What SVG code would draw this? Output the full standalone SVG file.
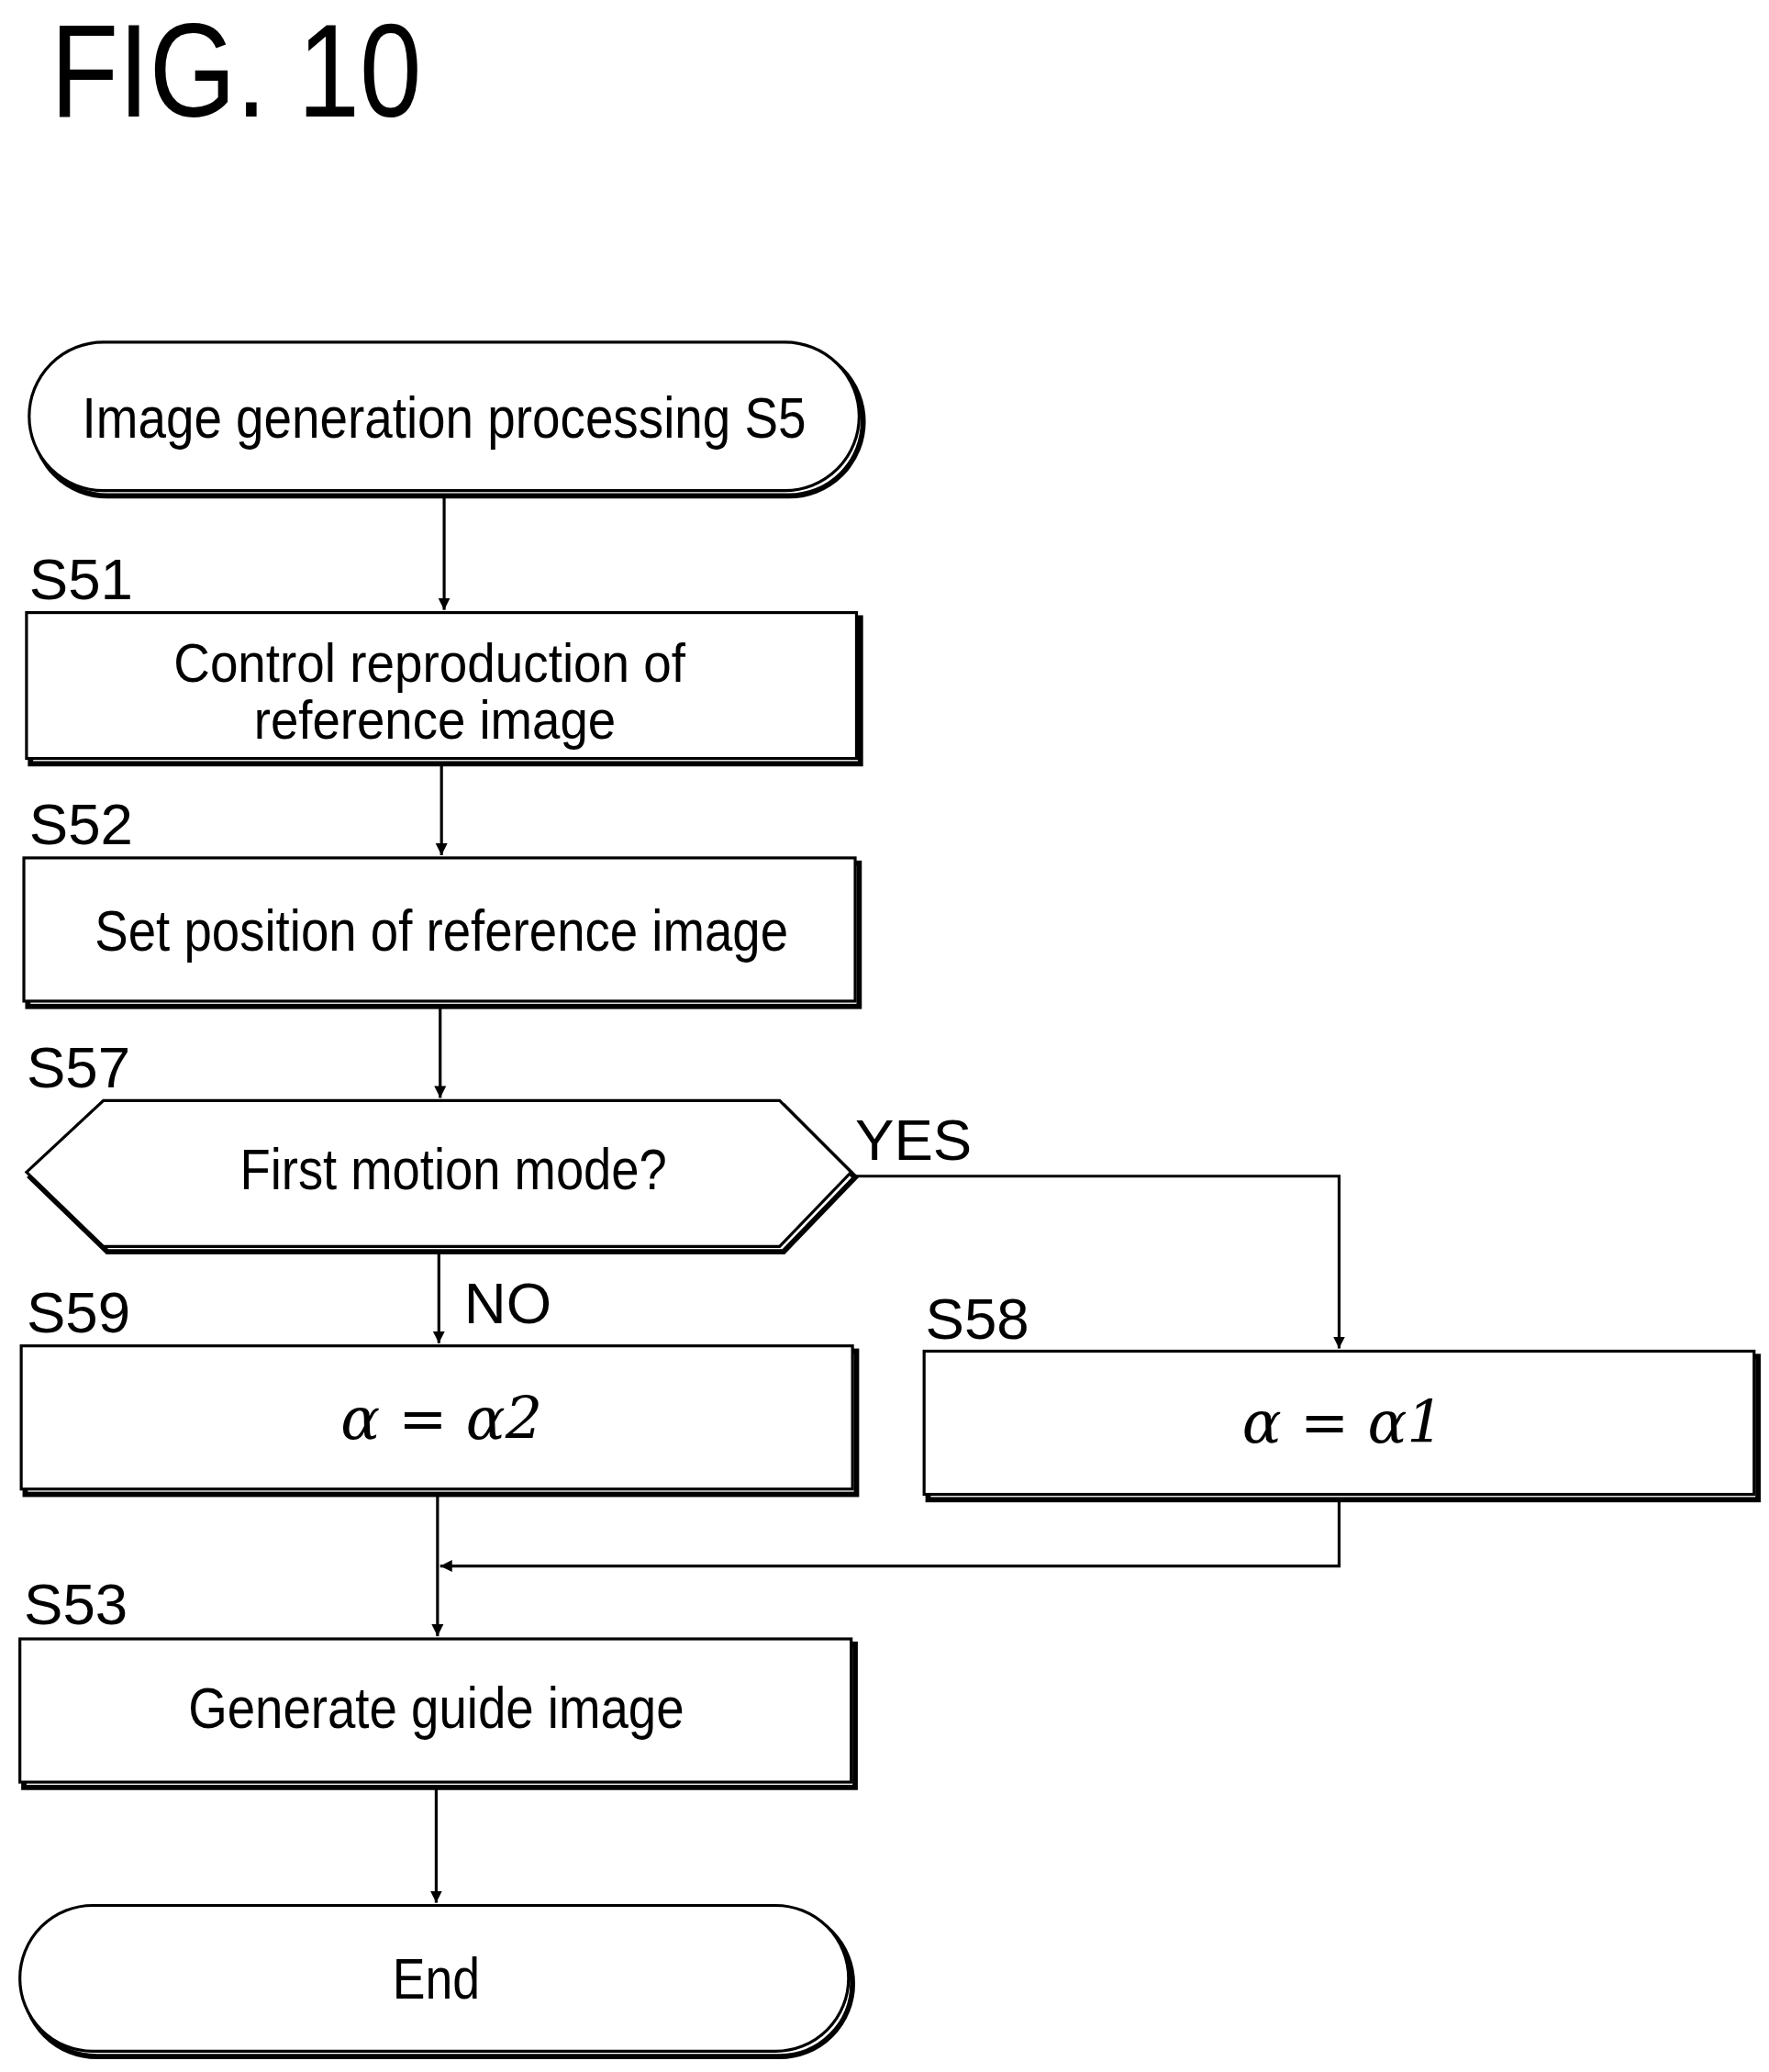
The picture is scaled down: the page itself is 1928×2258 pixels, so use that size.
<svg xmlns="http://www.w3.org/2000/svg" width="1928" height="2258" viewBox="0 0 1928 2258">
<style>
.b{fill:#fff;stroke:#000;stroke-width:2.2}
.s{fill:none;stroke:#000;stroke-width:4}
.t{font-family:"Liberation Sans",Arial,sans-serif;font-size:44px;text-anchor:middle;fill:#000}
.l{font-family:"Liberation Sans",Arial,sans-serif;font-size:44px;fill:#000}
.m{font-family:"DejaVu Serif",serif;font-style:italic;font-size:44px;text-anchor:middle;fill:#000}
.c{fill:none;stroke:#000;stroke-width:2.2}
</style>
<defs><marker id="a" viewBox="0 0 10 10" markerWidth="9" markerHeight="14" refX="10" refY="5" orient="auto" markerUnits="userSpaceOnUse"><path d="M0,0 L10,5 L0,10 Z" fill="#000"/></marker></defs>
<rect width="1928" height="2258" fill="#fff"/>
<g transform="scale(1.445)">
<text x="38" y="88" style="font-family:'Liberation Sans',Arial,sans-serif;font-size:100px" textLength="280" lengthAdjust="spacingAndGlyphs">FIG. 10</text>
<g id="start"><rect class="s" x="25" y="262" width="626" height="112" rx="56"/><rect class="b" x="22" y="258" width="626" height="112" rx="56"/><text class="t" x="335" y="330" textLength="546" lengthAdjust="spacingAndGlyphs">Image generation processing S5</text></g>
<g id="S51"><text class="l" x="22" y="452">S51</text><rect class="s" x="23" y="466" width="626" height="110"/><rect class="b" x="20" y="462" width="626" height="110"/><text class="t" x="324" y="514" textLength="386" lengthAdjust="spacingAndGlyphs" style="font-size:41px">Control reproduction of</text><text class="t" x="328" y="557" textLength="273" lengthAdjust="spacingAndGlyphs" style="font-size:41px">reference image</text></g>
<g id="S52"><text class="l" x="22" y="637">S52</text><rect class="s" x="21" y="651" width="627" height="108"/><rect class="b" x="18" y="647" width="627" height="108"/><text class="t" x="333" y="717" textLength="523" lengthAdjust="spacingAndGlyphs">Set position of reference image</text></g>
<g id="S57"><text class="l" x="20" y="820">S57</text><polygon class="s" points="23,888 81,834 591,834 645,888 591,944 81,944"/><polygon class="b" points="20,884 78,830 588,830 642,884 588,940 78,940"/><text class="t" x="342" y="897" textLength="322" lengthAdjust="spacingAndGlyphs">First motion mode?</text></g>
<g id="S59"><text class="l" x="20" y="1005">S59</text><rect class="s" x="19" y="1019" width="627" height="108"/><rect class="b" x="16" y="1015" width="627" height="108"/><text class="m" x="333" y="1085">α = α2</text></g>
<g id="S58"><text class="l" x="698" y="1010">S58</text><rect class="s" x="700" y="1023" width="626" height="108"/><rect class="b" x="697" y="1019" width="626" height="108"/><text class="m" x="1013" y="1088">α = α1</text></g>
<g id="S53"><text class="l" x="18" y="1225">S53</text><rect class="s" x="18" y="1240" width="627" height="108"/><rect class="b" x="15" y="1236" width="627" height="108"/><text class="t" x="329" y="1303" textLength="374" lengthAdjust="spacingAndGlyphs">Generate guide image</text></g>
<g id="end"><rect class="s" x="18" y="1441" width="625" height="110" rx="55"/><rect class="b" x="15" y="1437" width="625" height="110" rx="55"/><text class="t" x="329" y="1507" textLength="66" lengthAdjust="spacingAndGlyphs">End</text></g>
<g id="connectors">
<line class="c" x1="335" y1="374" x2="335" y2="460" marker-end="url(#a)"/>
<line class="c" x1="333" y1="576" x2="333" y2="645" marker-end="url(#a)"/>
<line class="c" x1="332" y1="759" x2="332" y2="828" marker-end="url(#a)"/>
<line class="c" x1="331" y1="944" x2="331" y2="1013" marker-end="url(#a)"/>
<polyline class="c" points="643,887 1010,887 1010,1017" marker-end="url(#a)"/>
<line class="c" x1="330" y1="1127" x2="330" y2="1234" marker-end="url(#a)"/>
<polyline class="c" points="1010,1131 1010,1181 332,1181" marker-end="url(#a)"/>
<line class="c" x1="329" y1="1348" x2="329" y2="1435" marker-end="url(#a)"/>
<text class="l" x="645" y="875">YES</text>
<text class="l" x="350" y="998">NO</text>
</g>
</g>
</svg>
